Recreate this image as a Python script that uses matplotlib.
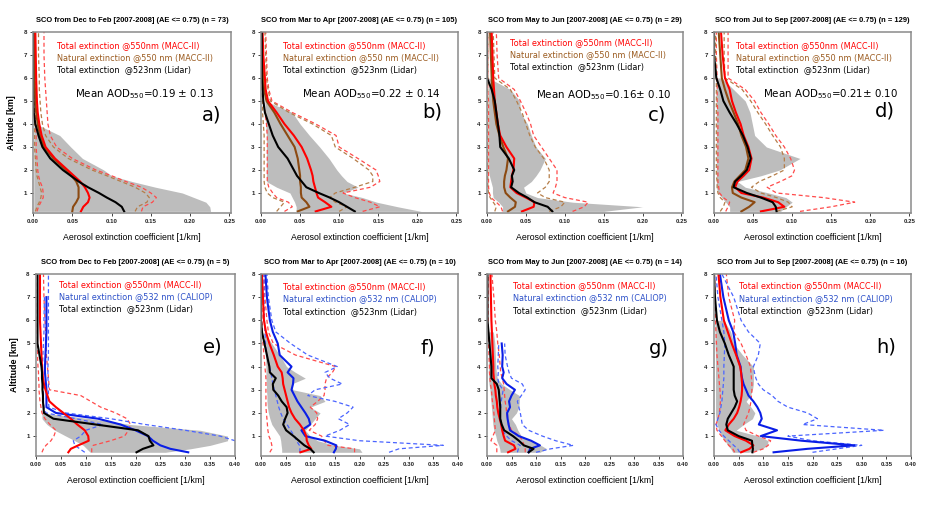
import numpy as np
import matplotlib.pyplot as plt

nan = np.nan

# altitude levels [km]
alt_top = [0.2, 0.4, 0.6, 0.8, 1.0, 1.25, 1.5, 1.75, 2.0, 2.5, 3.0, 3.5, 4.0, 4.5, 5.0, 5.5, 6.0, 7.0, 8.0]
alt_bot = [0.3, 0.45, 0.6, 0.8, 1.0, 1.25, 1.5, 1.75, 2.0, 2.25, 2.5, 2.75, 3.0, 3.25, 3.5, 3.75, 4.0,
           4.5, 5.0, 5.5, 6.0, 7.0, 8.0]

# ---- a) Dec-Feb, MACC-II vs lidar
a_gray_lo = [0.001, 0.001, 0.001, 0.001, 0.001, 0.001, 0.001, 0.001, 0.001, 0.001, 0.001, 0.001, 0.001, nan, nan, nan, nan, nan, nan]
a_gray_hi = [0.226, 0.225, 0.22, 0.205, 0.19, 0.156, 0.126, 0.1, 0.09, 0.063, 0.048, 0.034, 0.004, nan, nan, nan, nan, nan, nan]
a_black = [0.116, 0.113, 0.105, 0.094, 0.084, 0.07, 0.058, 0.048, 0.038, 0.022, 0.012, 0.007, 0.003, 0.001, 0.0005, 0, 0, 0, 0]
a_red = [0.061, 0.064, 0.07, 0.072, 0.07, 0.066, 0.06, 0.052, 0.044, 0.028, 0.016, 0.011, 0.008, 0.006, 0.005, 0.0045, 0.004, 0.0035, 0.003]
a_red_lo = [0.005, 0.007, 0.01, 0.013, 0.013, 0.012, 0.009, 0.007, 0.006, 0.005, 0.004, 0.004, 0.003, 0.003, 0.003, 0.003, 0.003, 0.003, 0.003]
a_red_hi = [0.138, 0.14, 0.152, 0.157, 0.15, 0.138, 0.118, 0.1, 0.08, 0.05, 0.03, 0.022, 0.019, 0.018, 0.017, 0.016, 0.015, 0.014, 0.014]
a_brown = [0.05, 0.051, 0.055, 0.058, 0.058, 0.058, 0.055, 0.049, 0.042, 0.026, 0.014, 0.009, 0.006, 0.004, 0.003, 0.0025, 0.002, 0.002, 0.002]
a_brown_lo = [0.003, 0.005, 0.008, 0.01, 0.011, 0.009, 0.007, 0.005, 0.004, 0.003, 0.002, 0.002, 0.002, 0.002, 0.001, 0.001, 0.001, 0.001, 0.001]
a_brown_hi = [0.13, 0.133, 0.145, 0.148, 0.143, 0.13, 0.112, 0.094, 0.075, 0.045, 0.026, 0.016, 0.012, 0.01, 0.009, 0.008, 0.008, 0.007, 0.007]

# ---- b) Mar-Apr
b_gray_lo = [0.045, 0.045, 0.043, 0.04, 0.037, 0.02, 0.007, 0.007, 0.007, 0.007, 0.007, 0.007, 0.006, 0.005, 0.005, nan, nan, nan, nan]
b_gray_hi = [0.205, 0.175, 0.148, 0.13, 0.105, 0.124, 0.11, 0.103, 0.097, 0.087, 0.075, 0.062, 0.05, 0.04, 0.006, nan, nan, nan, nan]
b_black = [0.12, 0.11, 0.1, 0.088, 0.074, 0.058, 0.052, 0.046, 0.042, 0.034, 0.022, 0.015, 0.01, 0.005, 0.003, 0.002, 0.001, 0.001, 0.001]
b_red = [0.07, 0.09, 0.082, 0.073, 0.071, 0.069, 0.067, 0.066, 0.064, 0.059, 0.052, 0.042, 0.03, 0.02, 0.009, 0.006, 0.005, 0.003, 0.002]
b_red_lo = [0.03, 0.04, 0.035, 0.02, 0.015, 0.01, 0.008, 0.008, 0.008, 0.008, 0.008, 0.008, 0.007, 0.005, 0.003, 0.002, 0.0015, 0.001, 0.001]
b_red_hi = [0.13, 0.152, 0.14, 0.12, 0.105, 0.14, 0.152, 0.15, 0.147, 0.124, 0.1, 0.096, 0.07, 0.04, 0.014, 0.01, 0.008, 0.007, 0.006]
b_brown = [0.047, 0.062, 0.058, 0.052, 0.051, 0.051, 0.05, 0.05, 0.049, 0.047, 0.043, 0.034, 0.025, 0.017, 0.007, 0.004, 0.003, 0.002, 0.001]
b_brown_lo = [0.02, 0.025, 0.03, 0.015, 0.008, 0.005, 0.004, 0.004, 0.004, 0.004, 0.004, 0.004, 0.003, 0.002, 0.002, 0.001, 0.001, 0.001, 0.001]
b_brown_hi = [0.1, 0.11, 0.095, 0.088, 0.095, 0.12, 0.143, 0.143, 0.138, 0.118, 0.095, 0.09, 0.066, 0.036, 0.012, 0.009, 0.007, 0.006, 0.005]

# ---- c) May-Jun
c_gray_lo = [0.02, 0.02, 0.015, 0.008, 0.007, 0.007, 0.005, 0.003, 0.002, 0.002, 0.002, 0.002, 0.002, 0.002, 0.002, 0.002, 0.002, nan, nan]
c_gray_hi = [0.15, 0.2, 0.11, 0.065, 0.05, 0.047, 0.057, 0.063, 0.068, 0.075, 0.063, 0.057, 0.052, 0.043, 0.042, 0.03, 0.002, nan, nan]
c_black = [0.084, 0.078, 0.061, 0.052, 0.041, 0.031, 0.033, 0.032, 0.035, 0.028, 0.017, 0.016, 0.014, 0.012, 0.01, 0.006, 0.0, 0.0, 0.0]
c_red = [0.045, 0.06, 0.061, 0.05, 0.038, 0.03, 0.031, 0.032, 0.034, 0.035, 0.025, 0.017, 0.014, 0.012, 0.01, 0.009, 0.008, 0.007, 0.006]
c_red_lo = [0.02, 0.018, 0.012, 0.005, 0.003, 0.002, 0.002, 0.002, 0.002, 0.002, 0.002, 0.002, 0.002, 0.002, 0.002, 0.001, 0.001, 0.001, 0.001]
c_red_hi = [0.11, 0.125, 0.13, 0.1, 0.085, 0.088, 0.09, 0.09, 0.09, 0.08, 0.07, 0.06, 0.056, 0.05, 0.043, 0.035, 0.015, 0.013, 0.012]
c_brown = [0.027, 0.036, 0.037, 0.03, 0.024, 0.022, 0.022, 0.023, 0.025, 0.027, 0.021, 0.016, 0.012, 0.01, 0.008, 0.007, 0.006, 0.005, 0.004]
c_brown_lo = [0.01, 0.012, 0.008, 0.004, 0.002, 0.001, 0.001, 0.001, 0.001, 0.001, 0.001, 0.001, 0.001, 0.001, 0.001, 0.001, 0.001, 0.001, 0.001]
c_brown_hi = [0.08, 0.095, 0.1, 0.075, 0.065, 0.075, 0.08, 0.08, 0.08, 0.073, 0.062, 0.055, 0.05, 0.045, 0.038, 0.03, 0.01, 0.009, 0.008]

# ---- d) Jul-Sep
d_gray_lo = [0.02, 0.02, 0.015, 0.01, 0.005, 0.003, 0.003, 0.003, 0.003, 0.003, 0.003, 0.003, 0.003, 0.003, 0.003, 0.003, 0.003, nan, nan]
d_gray_hi = [0.085, 0.092, 0.1, 0.092, 0.07, 0.04, 0.03, 0.06, 0.084, 0.11, 0.067, 0.052, 0.049, 0.046, 0.04, 0.025, 0.01, nan, nan]
d_black = [0.08, 0.079, 0.075, 0.06, 0.042, 0.025, 0.027, 0.035, 0.042, 0.047, 0.043, 0.037, 0.029, 0.02, 0.012, 0.008, 0.003, 0.0, 0.0]
d_red = [0.06, 0.09, 0.082, 0.063, 0.035, 0.027, 0.03, 0.038, 0.045, 0.048, 0.044, 0.038, 0.034, 0.028, 0.023, 0.02, 0.014, 0.011, 0.009]
d_red_lo = [0.015, 0.018, 0.02, 0.012, 0.007, 0.006, 0.005, 0.005, 0.005, 0.005, 0.005, 0.005, 0.005, 0.005, 0.004, 0.004, 0.004, 0.003, 0.003]
d_red_hi = [0.11, 0.15, 0.18, 0.14, 0.08, 0.068, 0.085, 0.1, 0.103, 0.098, 0.09, 0.079, 0.07, 0.06, 0.052, 0.04, 0.018, 0.018, 0.018]
d_brown = [0.035, 0.045, 0.052, 0.035, 0.024, 0.023, 0.026, 0.033, 0.04, 0.044, 0.041, 0.035, 0.031, 0.025, 0.019, 0.014, 0.01, 0.008, 0.006]
d_brown_lo = [0.008, 0.012, 0.014, 0.008, 0.005, 0.004, 0.004, 0.003, 0.003, 0.003, 0.003, 0.003, 0.003, 0.003, 0.003, 0.003, 0.003, 0.002, 0.002]
d_brown_hi = [0.08, 0.1, 0.095, 0.08, 0.06, 0.048, 0.058, 0.075, 0.09, 0.09, 0.085, 0.075, 0.066, 0.056, 0.047, 0.036, 0.014, 0.013, 0.013]

# ---- e) Dec-Feb, CALIOP vs lidar
e_gray_lo = [0.109, 0.102, 0.095, 0.078, 0.06, 0.038, 0.022, 0.012, 0.012, nan, nan, nan, nan, nan, nan, nan, nan, nan, nan, nan, nan, nan, nan]
e_gray_hi = [0.26, 0.31, 0.35, 0.385, 0.385, 0.33, 0.19, 0.11, 0.013, nan, nan, nan, nan, nan, nan, nan, nan, nan, nan, nan, nan, nan, nan]
e_black = [0.202, 0.215, 0.236, 0.229, 0.226, 0.205, 0.12, 0.035, 0.016, 0.015, 0.014, 0.014, 0.013, 0.013, 0.012, 0.012, 0.011, 0.007, 0.003, 0.003, 0.003, 0.003, 0.003]
e_red = [0.065, 0.07, 0.085, 0.106, 0.105, 0.098, 0.083, 0.07, 0.055, 0.04, 0.027, 0.023, 0.019, 0.016, 0.014, 0.013, 0.012, 0.011, 0.01, 0.009, 0.008, 0.008, 0.008]
e_red_lo = [0.012, 0.015, 0.02, 0.03, 0.036, 0.04, 0.028, 0.018, 0.012, 0.01, 0.008, 0.007, 0.006, 0.006, 0.005, 0.005, 0.004, 0.003, 0.003, 0.002, 0.002, 0.002, 0.002]
e_red_hi = [0.112, 0.112, 0.115, 0.15, 0.178, 0.186, 0.19, 0.183, 0.16, 0.13, 0.11, 0.09, 0.027, 0.026, 0.025, 0.024, 0.023, 0.021, 0.02, 0.019, 0.018, 0.016, 0.015]
e_blue = [0.306, 0.27, 0.25, 0.235, 0.225, 0.2, 0.17, 0.125, 0.04, 0.021, 0.021, 0.021, 0.021, 0.02, 0.019, 0.018, 0.018, 0.019, 0.02, 0.021, 0.021, 0.021, nan]
e_blue_lo = [0.098, 0.088, 0.078, 0.075, 0.09, 0.1, 0.135, 0.08, 0.02, 0.016, 0.015, 0.015, 0.015, 0.014, 0.014, 0.013, 0.013, 0.014, 0.015, 0.016, 0.016, 0.017, nan]
e_blue_hi = [0.41, 0.41, 0.41, 0.4, 0.37, 0.3, 0.22, 0.15, 0.06, 0.026, 0.025, 0.025, 0.025, 0.025, 0.024, 0.024, 0.024, 0.025, 0.025, 0.025, 0.025, 0.025, 0.025]

# ---- f) Mar-Apr
f_gray_lo = [0.042, 0.042, 0.041, 0.04, 0.038, 0.03, 0.022, 0.018, 0.015, 0.013, 0.012, 0.012, 0.011, 0.011, 0.01, 0.01, 0.01, 0.009, 0.008, 0.006, nan, nan, nan]
f_gray_hi = [0.205, 0.2, 0.15, 0.115, 0.1, 0.09, 0.1, 0.11, 0.12, 0.1, 0.13, 0.12, 0.065, 0.062, 0.09, 0.07, 0.052, 0.038, 0.022, 0.006, nan, nan, nan]
f_black = [0.107, 0.1, 0.088, 0.077, 0.066, 0.051, 0.045, 0.049, 0.054, 0.052, 0.042, 0.035, 0.025, 0.024, 0.03, 0.018, 0.017, 0.012, 0.007, 0.002, 0.0, 0.0, 0.0]
f_red = [0.08, 0.102, 0.097, 0.093, 0.092, 0.087, 0.079, 0.069, 0.062, 0.057, 0.054, 0.051, 0.048, 0.045, 0.044, 0.042, 0.034, 0.026, 0.017, 0.01, 0.006, 0.004, 0.002]
f_red_lo = [0.018, 0.022, 0.022, 0.02, 0.016, 0.014, 0.013, 0.012, 0.011, 0.01, 0.01, 0.01, 0.01, 0.01, 0.01, 0.009, 0.008, 0.006, 0.004, 0.003, 0.002, 0.002, 0.001]
f_red_hi = [0.19, 0.19, 0.136, 0.128, 0.123, 0.098, 0.11, 0.115, 0.113, 0.1, 0.115, 0.128, 0.13, 0.13, 0.133, 0.145, 0.152, 0.07, 0.025, 0.015, 0.012, 0.008, 0.006]
f_blue = [0.148, 0.152, 0.153, 0.13, 0.09, 0.082, 0.1, 0.097, 0.09, 0.082, 0.074, 0.068, 0.062, 0.065, 0.066, 0.054, 0.062, 0.038, 0.034, 0.024, 0.018, 0.012, 0.009]
f_blue_lo = [0.079, 0.079, 0.078, 0.072, 0.068, 0.06, 0.053, 0.045, 0.04, 0.036, 0.033, 0.03, 0.027, 0.024, 0.022, 0.02, 0.017, 0.012, 0.009, 0.008, 0.007, 0.006, 0.006]
f_blue_hi = [0.26, 0.28, 0.37, 0.2, 0.13, 0.16, 0.18, 0.157, 0.175, 0.187, 0.15, 0.095, 0.11, 0.165, 0.14, 0.13, 0.155, 0.095, 0.06, 0.03, 0.022, 0.015, 0.012]

# ---- g) May-Jun
g_gray_lo = [0.027, 0.026, 0.024, 0.02, 0.018, 0.014, 0.012, 0.011, 0.01, 0.009, 0.008, 0.007, 0.006, 0.004, 0.003, 0.003, 0.003, 0.003, 0.003, 0.003, nan, nan, nan]
g_gray_hi = [0.108, 0.122, 0.11, 0.09, 0.07, 0.063, 0.058, 0.05, 0.06, 0.065, 0.066, 0.066, 0.047, 0.03, 0.021, 0.019, 0.018, 0.017, 0.016, 0.013, nan, nan, nan]
g_black = [0.085, 0.095, 0.075, 0.065, 0.053, 0.035, 0.03, 0.027, 0.027, 0.027, 0.026, 0.025, 0.024, 0.02, 0.009, 0.009, 0.009, 0.007, 0.005, 0.003, 0.001, 0.001, 0.001]
g_red = [0.043, 0.058, 0.055, 0.037, 0.034, 0.031, 0.029, 0.026, 0.023, 0.021, 0.02, 0.018, 0.017, 0.015, 0.014, 0.013, 0.013, 0.012, 0.011, 0.01, 0.009, 0.008, 0.007]
g_red_lo = [0.02, 0.02, 0.02, 0.008, 0.012, 0.017, 0.016, 0.015, 0.014, 0.013, 0.011, 0.01, 0.009, 0.007, 0.006, 0.005, 0.005, 0.004, 0.003, 0.003, 0.002, 0.002, 0.002]
g_red_hi = [0.078, 0.078, 0.076, 0.072, 0.067, 0.05, 0.045, 0.042, 0.04, 0.039, 0.037, 0.036, 0.035, 0.034, 0.031, 0.028, 0.027, 0.025, 0.022, 0.02, 0.017, 0.014, 0.01]
g_blue = [0.085, 0.088, 0.108, 0.09, 0.065, 0.047, 0.044, 0.042, 0.041, 0.047, 0.045, 0.05, 0.057, 0.04, 0.031, 0.034, 0.031, 0.032, 0.03, nan, nan, nan, nan]
g_blue_lo = [0.062, 0.064, 0.068, 0.05, 0.04, 0.031, 0.029, 0.027, 0.027, 0.028, 0.029, 0.031, 0.033, 0.024, 0.022, 0.023, 0.022, 0.023, 0.024, nan, nan, nan, nan]
g_blue_hi = [0.1, 0.13, 0.176, 0.14, 0.113, 0.085, 0.072, 0.07, 0.068, 0.065, 0.062, 0.07, 0.078, 0.072, 0.05, 0.045, 0.042, 0.037, 0.036, nan, nan, nan, nan]

# ---- h) Jul-Sep
h_gray_lo = [0.038, 0.034, 0.028, 0.022, 0.015, 0.01, 0.006, 0.004, 0.003, 0.003, 0.003, 0.003, 0.003, 0.003, 0.003, 0.003, 0.003, 0.003, 0.002, 0.002, 0.002, nan, nan]
h_gray_hi = [0.07, 0.098, 0.108, 0.11, 0.09, 0.045, 0.06, 0.078, 0.083, 0.075, 0.065, 0.074, 0.078, 0.08, 0.08, 0.08, 0.08, 0.058, 0.04, 0.034, 0.02, nan, nan]
h_black = [0.078, 0.079, 0.078, 0.077, 0.05, 0.028, 0.025, 0.028, 0.035, 0.042, 0.047, 0.042, 0.04, 0.04, 0.04, 0.04, 0.04, 0.03, 0.022, 0.012, 0.006, 0.002, 0.0]
h_red = [0.055, 0.072, 0.08, 0.065, 0.042, 0.023, 0.03, 0.04, 0.047, 0.051, 0.054, 0.056, 0.057, 0.057, 0.056, 0.055, 0.053, 0.045, 0.036, 0.028, 0.02, 0.013, 0.009]
h_red_lo = [0.042, 0.038, 0.03, 0.022, 0.015, 0.006, 0.004, 0.008, 0.011, 0.012, 0.013, 0.013, 0.012, 0.011, 0.01, 0.009, 0.008, 0.006, 0.005, 0.004, 0.003, 0.002, 0.001]
h_red_hi = [0.08, 0.1, 0.11, 0.115, 0.09, 0.065, 0.06, 0.065, 0.07, 0.073, 0.075, 0.076, 0.077, 0.077, 0.076, 0.075, 0.074, 0.065, 0.055, 0.04, 0.042, 0.03, 0.025]
h_blue = [0.121, 0.19, 0.285, 0.178, 0.095, 0.128, 0.091, 0.097, 0.094, 0.088, 0.08, 0.07, 0.065, 0.06, 0.057, 0.055, 0.054, 0.046, 0.043, 0.039, 0.03, 0.019, 0.012]
h_blue_lo = [0.052, 0.048, 0.04, 0.03, 0.02, 0.01, 0.004, 0.008, 0.012, 0.014, 0.016, 0.017, 0.018, 0.019, 0.02, 0.02, 0.02, 0.021, 0.022, 0.02, 0.016, 0.008, 0.004]
h_blue_hi = [0.2, 0.25, 0.3, 0.2, 0.15, 0.345, 0.18, 0.21, 0.19, 0.15, 0.13, 0.118, 0.1, 0.09, 0.085, 0.082, 0.08, 0.09, 0.094, 0.07, 0.055, 0.04, 0.016]

seasons = ["Dec to Feb", "Mar to Apr", "May to Jun", "Jul to Sep"]
n_top = [73, 105, 29, 129]
n_bot = [5, 10, 14, 16]
aod_text = ["Mean AOD$_{550}$=0.19 \u00b1 0.13", "Mean AOD$_{550}$=0.22 \u00b1 0.14",
            "Mean AOD$_{550}$=0.16\u00b1 0.10", "Mean AOD$_{550}$=0.21\u00b1 0.10"]
letters_top = ["a)", "b)", "c)", "d)"]
letters_bot = ["e)", "f)", "g)", "h)"]

RED = "#ff0000"
RED_D = "#ff4a4a"
BROWN = "#8c4a12"
BROWN_D = "#b57d48"
BLUE = "#0a1ee6"
BLUE_D = "#4a64ff"
GRAY = "#bdbdbd"
DASH = (0, (3.2, 2.2))

top_sets = [
    (a_gray_lo, a_gray_hi, a_black, a_red, a_red_lo, a_red_hi, a_brown, a_brown_lo, a_brown_hi),
    (b_gray_lo, b_gray_hi, b_black, b_red, b_red_lo, b_red_hi, b_brown, b_brown_lo, b_brown_hi),
    (c_gray_lo, c_gray_hi, c_black, c_red, c_red_lo, c_red_hi, c_brown, c_brown_lo, c_brown_hi),
    (d_gray_lo, d_gray_hi, d_black, d_red, d_red_lo, d_red_hi, d_brown, d_brown_lo, d_brown_hi),
]
bot_sets = [
    (e_gray_lo, e_gray_hi, e_black, e_red, e_red_lo, e_red_hi, e_blue, e_blue_lo, e_blue_hi),
    (f_gray_lo, f_gray_hi, f_black, f_red, f_red_lo, f_red_hi, f_blue, f_blue_lo, f_blue_hi),
    (g_gray_lo, g_gray_hi, g_black, g_red, g_red_lo, g_red_hi, g_blue, g_blue_lo, g_blue_hi),
    (h_gray_lo, h_gray_hi, h_black, h_red, h_red_lo, h_red_hi, h_blue, h_blue_lo, h_blue_hi),
]

# axes boxes in pixels (left, width)
W, H = 948, 505
top_boxes = [(33, 198), (261, 197), (487, 196), (714, 197)]
bot_boxes = [(36, 199), (261, 197), (487, 196), (714, 197)]
# legend / annotation positions (axes fractions)
leg_top = [(0.123, 0.923), (0.112, 0.923), (0.117, 0.941), (0.11, 0.925)]
aod_pos = [(0.212, 0.655), (0.208, 0.655), (0.248, 0.651), (0.25, 0.655)]
let_top = [(0.9, 0.54), (0.868, 0.56), (0.866, 0.54), (0.868, 0.565)]
leg_bot = [(0.117, 0.943), (0.11, 0.93), (0.131, 0.936), (0.128, 0.934)]
let_bot = [(0.89, 0.6), (0.848, 0.593), (0.875, 0.593), (0.876, 0.6)]

LEGF = "DejaVu Sans"
AXF = "Liberation Sans"

fig = plt.figure(figsize=(W / 100, H / 100), dpi=100)


def style_axes(ax, xmax, step, left_panel):
    ax.set_xlim(0, xmax)
    ax.set_xticks(np.arange(0, xmax + 0.001, step))
    ax.set_xticklabels(["%.2f" % v for v in np.arange(0, xmax + 0.001, step)])
    ax.set_yticks(range(1, 9))
    ax.tick_params(labelsize=4.4, length=2.5, width=0.6, colors="#222222", pad=2)
    for lab in ax.get_xticklabels() + ax.get_yticklabels():
        lab.set_fontweight("bold")
        lab.set_family(AXF)
    for s in ax.spines.values():
        s.set_color("#8a8a8a")
        s.set_linewidth(1.1)
    ax.set_xlabel("Aerosol extinction coefficient [1/km]", fontsize=6.3, family=AXF, labelpad=6)
    if left_panel:
        ax.set_ylabel("Altitude [km]", fontsize=6.4, family=AXF, fontweight="bold", labelpad=5)


def draw(ax, alt, data, second_col, second_col_d):
    g_lo, g_hi, blk, red, red_lo, red_hi, sec, sec_lo, sec_hi = data
    ax.fill_betweenx(alt, g_lo, g_hi, color=GRAY, lw=0)
    for v in (red_lo, red_hi):
        ax.plot(v, alt, color=RED_D, lw=0.9, ls=DASH)
    for v in (sec_lo, sec_hi):
        ax.plot(v, alt, color=second_col_d, lw=0.9, ls=DASH)
    ax.plot(sec, alt, color=second_col, lw=1.5)
    ax.plot(red, alt, color=RED, lw=1.5)
    ax.plot(blk, alt, color="black", lw=1.5)


for i in range(4):
    l, w = top_boxes[i]
    ax = fig.add_axes([l / W, 1 - 213 / H, w / W, 181 / H])
    draw(ax, alt_top, top_sets[i], BROWN, BROWN_D)
    ax.set_ylim(0.13, 8)
    style_axes(ax, 0.252, 0.05, i == 0)
    ax.set_title("SCO from %s [2007-2008] (AE <= 0.75) (n = %d)" % (seasons[i], n_top[i]),
                 fontsize=5.4, fontweight="bold", family=AXF, pad=7)
    x, y = leg_top[i]
    ax.text(x, y, "Total extinction @550nm (MACC-II)", color=RED, fontsize=5.9, family=LEGF,
            transform=ax.transAxes, va="center")
    ax.text(x, y - 0.066, "Natural extinction @550 nm (MACC-II)", color="#9a5a1e", fontsize=5.9,
            family=LEGF, transform=ax.transAxes, va="center")
    ax.text(x, y - 0.133, "Total extinction  @523nm (Lidar)", color="black", fontsize=5.9,
            family=LEGF, transform=ax.transAxes, va="center")
    ax.text(*aod_pos[i], aod_text[i], fontsize=7.4, family=LEGF, transform=ax.transAxes, va="center")
    ax.text(*let_top[i], letters_top[i], fontsize=14, family=LEGF, transform=ax.transAxes,
            ha="center", va="center")

for i in range(4):
    l, w = bot_boxes[i]
    ax = fig.add_axes([l / W, 1 - 456 / H, w / W, 182 / H])
    draw(ax, alt_bot, bot_sets[i], BLUE, BLUE_D)
    ax.set_ylim(0.14, 8)
    style_axes(ax, 0.40, 0.05, i == 0)
    ax.set_title("SCO from %s [2007-2008] (AE <= 0.75) (n = %d)" % (seasons[i], n_bot[i]),
                 fontsize=5.4, fontweight="bold", family=AXF, pad=7)
    x, y = leg_bot[i]
    ax.text(x, y, "Total extinction @550nm (MACC-II)", color=RED, fontsize=5.9, family=LEGF,
            transform=ax.transAxes, va="center")
    ax.text(x, y - 0.067, "Natural extinction @532 nm (CALIOP)", color="#2b4fc8", fontsize=5.9,
            family=LEGF, transform=ax.transAxes, va="center")
    ax.text(x, y - 0.135, "Total extinction  @523nm (Lidar)", color="black", fontsize=5.9,
            family=LEGF, transform=ax.transAxes, va="center")
    ax.text(*let_bot[i], letters_bot[i], fontsize=14, family=LEGF, transform=ax.transAxes,
            ha="center", va="center")

fig.savefig("out.png", dpi=100)
